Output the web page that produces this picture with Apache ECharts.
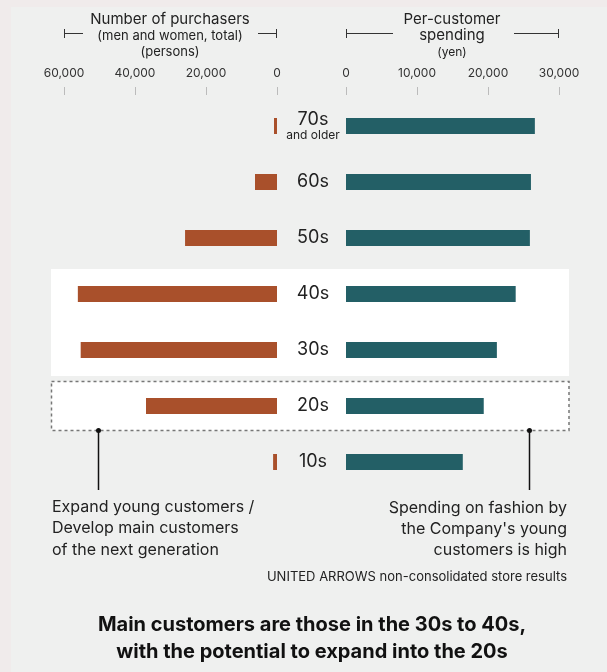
<!DOCTYPE html>
<html><head><meta charset="utf-8">
<script src="https://cdn.jsdelivr.net/npm/echarts@6/dist/echarts.min.js"></script>
<style>html,body{margin:0;padding:0;background:#f0ebeb}#c{width:607px;height:672px}</style>
</head><body><div id="c"></div>
<script>
const categories = ['70s', '60s', '50s', '40s', '30s', '20s', '10s'];
const purchasers = [850, 6200, 25900, 56100, 55300, 36900, 1100];
const spending = [26600, 26050, 25900, 23900, 21250, 19400, 16450];
const purchaserAxis = { min: 0, max: 60000, step: 20000 };
const spendingAxis = { min: 0, max: 30000, step: 10000 };

const FONT = 'Inter, "Noto Sans", sans-serif';
const TXT = '#222';
const fmt = v => String(v).replace(/\B(?=(\d{3})+(?!\d))/g, ',');

const chart = echarts.init(document.getElementById('c'), null, { renderer: 'canvas' });

function xAxisCfg(ax, gi, inverse) {
  return {
    type: 'value', gridIndex: gi, position: 'top', inverse: inverse, z: 5,
    min: ax.min, max: ax.max, interval: ax.step, offset: 3,
    axisLine: { show: false },
    axisTick: { show: true, length: 8, lineStyle: { color: '#bbb', width: 1 } },
    splitLine: { show: false },
    axisLabel: { margin: 16, color: '#333', fontSize: 12, fontFamily: FONT, formatter: fmt }
  };
}

function t(x, y, s, size, align, extra) {
  return {
    type: 'text', z: 5,
    style: Object.assign({ x: x, y: y, text: s, fill: TXT, fontSize: size, fontFamily: FONT, textAlign: align || 'center', textVerticalAlign: 'middle' }, extra || {})
  };
}
const line = (x1, y1, x2, y2, color, w) => ({
  type: 'line', z: 5, shape: { x1: x1, y1: y1, x2: x2, y2: y2 }, style: { stroke: color || '#333', lineWidth: w || 1 }
});

const graphics = [
  { type: 'rect', z: -3, shape: { x: 11, y: 7, width: 596, height: 665 }, style: { fill: '#eff0ef' } },
  { type: 'rect', z: -2, shape: { x: 51, y: 269, width: 518, height: 107 }, style: { fill: '#ffffff' } },
  { type: 'rect', z: -2, shape: { x: 51.5, y: 381.5, width: 517.5, height: 49 }, style: { fill: '#ffffff', stroke: '#777', lineWidth: 1.5, lineDash: [3, 3] } },
  // header left
  t(170, 19, 'Number of purchasers', 15),
  t(170, 36, '(men and women, total)', 13),
  t(170, 52, '(persons)', 13),
  line(64, 33.5, 83, 33.5), line(64.5, 29, 64.5, 38),
  line(258, 33.5, 277, 33.5), line(276.5, 29, 276.5, 38),
  // header right
  t(452, 19, 'Per-customer', 15),
  t(452, 35, 'spending', 15),
  t(452, 52, '(yen)', 12),
  line(346, 33.5, 393, 33.5), line(346.5, 29, 346.5, 38),
  line(514, 33.5, 559, 33.5), line(558.5, 29, 558.5, 38),
  // annotation lines
  line(98.5, 430, 98.5, 490, '#111', 1.5),
  { type: 'circle', z: 6, shape: { cx: 98.5, cy: 430.5, r: 2.5 }, style: { fill: '#111' } },
  line(529.5, 430, 529.5, 490, '#111', 1.5),
  { type: 'circle', z: 6, shape: { cx: 529.5, cy: 430.5, r: 2.5 }, style: { fill: '#111' } },
  // annotation texts
  t(52, 507, 'Expand young customers /', 16, 'left'),
  t(52, 528, 'Develop main customers', 16, 'left'),
  t(52, 550, 'of the next generation', 16, 'left'),
  t(567, 508, 'Spending on fashion by', 16, 'right'),
  t(567, 529, "the Company's young", 16, 'right'),
  t(567, 550, 'customers is high', 16, 'right'),
  t(567, 577, 'UNITED ARROWS non-consolidated store results', 13, 'right'),
  // title
  t(312, 625, 'Main customers are those in the 30s to 40s,', 20, 'center', { fill: '#111', fontWeight: 'bold' }),
  t(312, 652, 'with the potential to expand into the 20s', 20, 'center', { fill: '#111', fontWeight: 'bold' })
];

const option = {
  animation: false,
  backgroundColor: 'transparent',
  textStyle: { fontFamily: FONT },
  graphic: { elements: graphics },
  grid: [
    { left: 64, top: 98, width: 213, height: 392, z: 3 },
    { left: 346, top: 98, width: 213, height: 392, z: 3 }
  ],
  xAxis: [xAxisCfg(purchaserAxis, 0, true), xAxisCfg(spendingAxis, 1, false)],
  yAxis: [
    {
      type: 'category', gridIndex: 0, data: categories, inverse: true, position: 'right', z: 5,
      axisLine: { show: false }, axisTick: { show: false }, splitLine: { show: false },
      axisLabel: {
        margin: 36, align: 'center', color: TXT, fontFamily: FONT,
        formatter: v => v === '70s' ? '{a|70s}\n{b|and older}' : '{a|' + v + '}',
        rich: {
          a: { fontSize: 18, lineHeight: 19, color: TXT, fontFamily: FONT, align: 'center' },
          b: { fontSize: 12, lineHeight: 13, color: TXT, fontFamily: FONT, align: 'center' }
        }
      }
    },
    {
      type: 'category', gridIndex: 1, data: categories, inverse: true,
      axisLine: { show: false }, axisTick: { show: false }, axisLabel: { show: false }, splitLine: { show: false }
    }
  ],
  series: [
    { type: 'bar', xAxisIndex: 0, yAxisIndex: 0, data: purchasers, barWidth: 16, z: 4, itemStyle: { color: '#a9502b' } },
    { type: 'bar', xAxisIndex: 1, yAxisIndex: 1, data: spending, barWidth: 16, z: 4, itemStyle: { color: '#235f66' } }
  ]
};
chart.setOption(option);
</script>
</body></html>
